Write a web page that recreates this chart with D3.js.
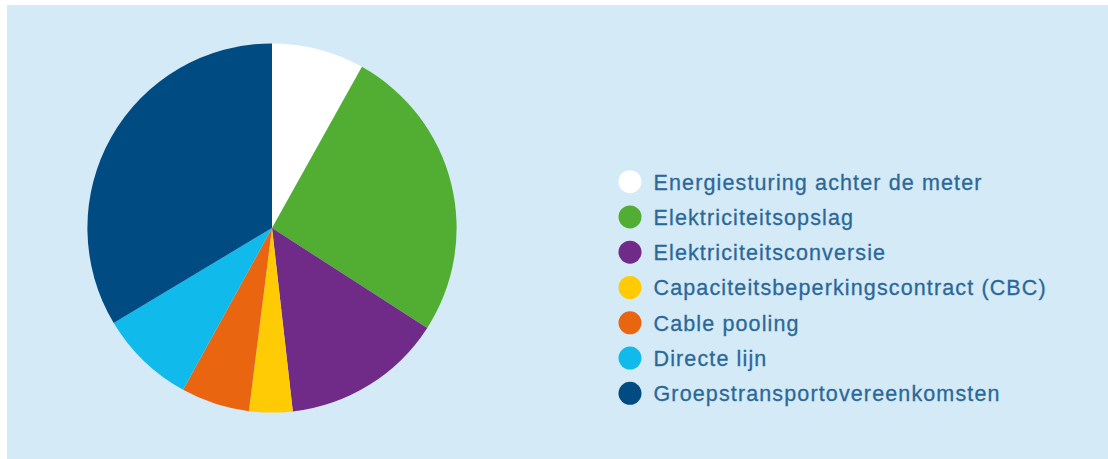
<!DOCTYPE html>
<html>
<head>
<meta charset="utf-8">
<script src="https://cdn.jsdelivr.net/npm/d3@7"></script>
<style>
  html, body { margin: 0; padding: 0; background: #ffffff; }
  svg { display: block; }
</style>
</head>
<body>
<svg id="chart" width="1108" height="459"></svg>
<script>
const categories = [
  "Energiesturing achter de meter",
  "Elektriciteitsopslag",
  "Elektriciteitsconversie",
  "Capaciteitsbeperkingscontract (CBC)",
  "Cable pooling",
  "Directe lijn",
  "Groepstransportovereenkomsten"
];
const values = [8.1, 26.0, 14.1, 3.8, 6.0, 8.4, 33.6];
const colors = ["#ffffff", "#52ae32", "#6f2b87", "#ffcb05", "#e9650f", "#10bbec", "#004b82"];

const svg = d3.select("#chart");
const W = 1108, H = 459;

svg.append("rect")
  .attr("x", 7).attr("y", 5)
  .attr("width", W - 7).attr("height", H - 5)
  .attr("fill", "#d4eaf7");

const cx = 272, cy = 228, r = 184.6;

const pie = d3.pie().sort(null).value(d => d.v);
const arc = d3.arc().innerRadius(0).outerRadius(r);
const data = categories.map((c, i) => ({ c, v: values[i] }));

const color = d3.scaleOrdinal().domain(categories).range(colors);

svg.append("g")
  .attr("transform", `translate(${cx},${cy})`)
  .selectAll("path")
  .data(pie(data))
  .join("path")
  .attr("d", arc)
  .attr("fill", d => color(d.data.c));

const y = d3.scalePoint().domain(categories).range([181.7, 393.3]);

const leg = svg.append("g")
  .selectAll("g")
  .data(categories)
  .join("g")
  .attr("transform", d => `translate(630,${y(d)})`);

leg.append("circle")
  .attr("r", 11.5)
  .attr("fill", d => color(d));

leg.append("text")
  .attr("x", 23.5)
  .attr("y", 7.8)
  .attr("font-family", "Liberation Sans, Arial, sans-serif")
  .attr("font-size", 21.5)
  .attr("letter-spacing", 1.13)
  .attr("fill", "#2b6898")
  .attr("stroke", "#2b6898")
  .attr("stroke-width", 0.3)
  .text(d => d);
</script>
</body>
</html>
